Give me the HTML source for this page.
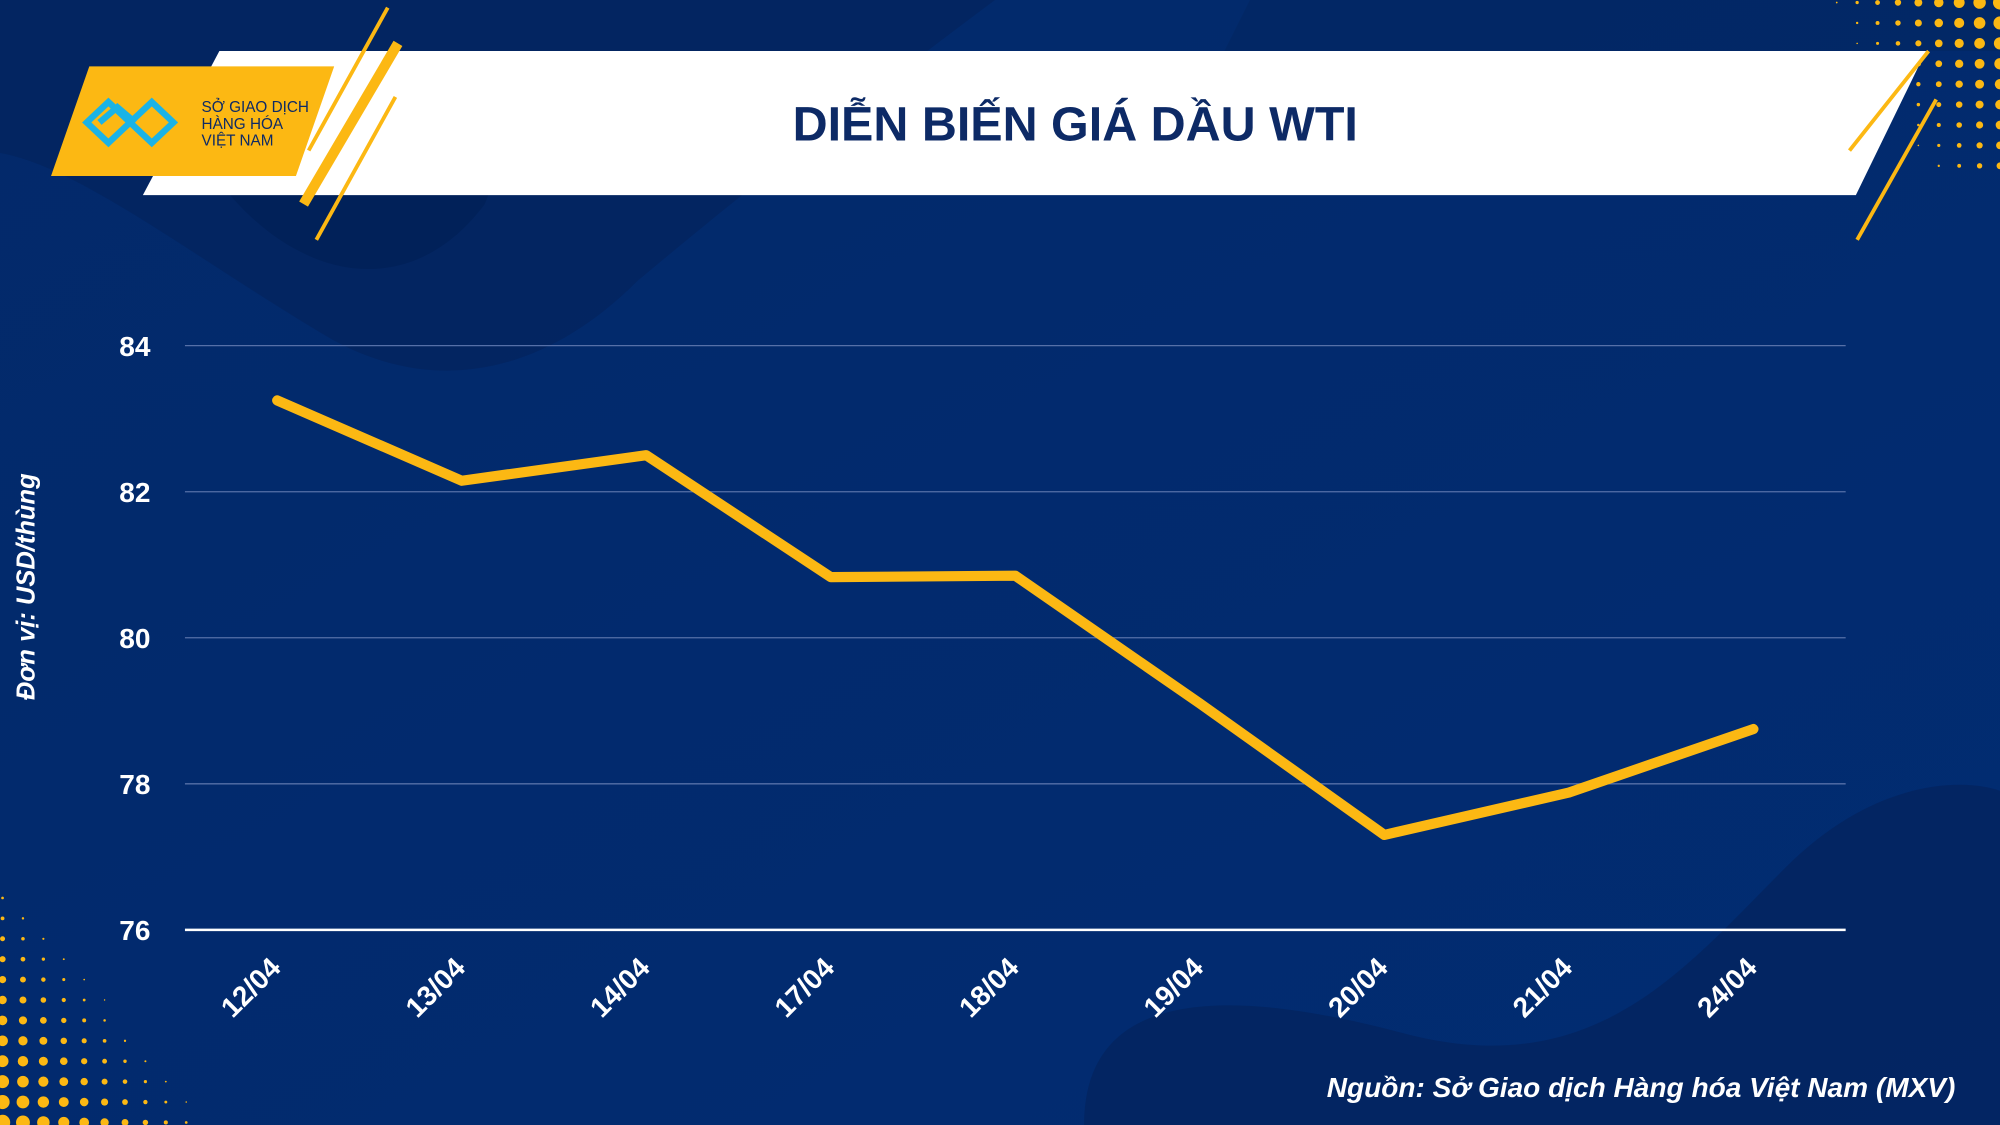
<!DOCTYPE html>
<html><head><meta charset="utf-8"><style>
html,body{margin:0;padding:0;width:2000px;height:1125px;overflow:hidden;background:#012b6f}
svg{display:block}
text{font-family:"Liberation Sans",sans-serif}
</style></head><body>
<svg id="chart" width="2000" height="1125" viewBox="0 0 1568 882" xmlns="http://www.w3.org/2000/svg">
<defs>
<linearGradient id="bg" x1="0" y1="0" x2="1" y2="1"><stop offset="0" stop-color="#03296a"/><stop offset="1" stop-color="#012c72"/></linearGradient>
</defs>
<rect width="1568" height="882" fill="url(#bg)"/>
<path d="M0,0 H780 C700,60 620,120 500,220 C420,300 330,310 250,260 C150,200 60,130 0,120 Z" fill="#04245f" opacity="0.8"/>
<path d="M170,140 C230,220 320,240 380,160 L420,60 L170,60Z" fill="#021f55" opacity="0.7"/>
<path d="M850,882 C850,780 950,770 1100,810 C1250,850 1320,760 1400,680 C1470,610 1540,610 1568,620 V882Z" fill="#04245f" opacity="0.8"/>
<path d="M980,0 H1568 V40 H960Z" fill="#032760" opacity="0.6"/>
<g id="dots-tr"></g>
<g id="dots-bl"></g>
<polygon points="172,40 1510,40 1455,153 112,153" fill="#ffffff"/>
<polygon points="70,52 262,52 232,138 40,138" fill="#fcb813"/>
<g stroke="#1bb3e6" stroke-width="5" fill="none">
<path d="M68,96 L85,80 L102,96 L119,80 L136,96 L119,112 L102,96 L85,112 Z"/>
<path d="M78,96 L92,84 L106,96"/>
</g>
<text x="158" y="88" font-size="12" fill="#0d2a66" font-family="Liberation Serif,serif">SỞ GIAO DỊCH</text>
<text x="158" y="101" font-size="12" fill="#0d2a66" font-family="Liberation Serif,serif">HÀNG HÓA</text>
<text x="158" y="114" font-size="12" fill="#0d2a66" font-family="Liberation Serif,serif">VIỆT NAM</text>
<g stroke="#fcb813">
<line x1="304" y1="6" x2="242" y2="118" stroke-width="3"/>
<line x1="312" y1="34" x2="238" y2="160" stroke-width="8"/>
<line x1="310" y1="76" x2="248" y2="188" stroke-width="3"/>
<line x1="1512" y1="40" x2="1450" y2="118" stroke-width="3"/>
<line x1="1518" y1="78" x2="1456" y2="188" stroke-width="3"/>
</g>
<text x="843" y="110" font-size="38" font-weight="bold" fill="#0d2a66" text-anchor="middle">DIỄN BIẾN GIÁ DẦU WTI</text>
<text transform="translate(27,460) rotate(-90)" font-size="20" font-weight="bold" font-style="italic" fill="#fff" text-anchor="middle">Đơn vị: USD/thùng</text>
<g id="grid"></g><g id="yt"></g><g id="xt"></g><g id="series"></g>
<text x="1533" y="860" font-size="22" font-weight="bold" font-style="italic" fill="#fff" text-anchor="end">Nguồn: Sở Giao dịch Hàng hóa Việt Nam (MXV)</text>
</svg>
<script>
const categories=["12/04","13/04","14/04","17/04","18/04","19/04","20/04","21/04","24/04"];
const prices=[83.25,82.15,82.5,80.83,80.85,79.1,77.3,77.88,78.75];
const yTicks=[76,78,80,82,84];
const NS="http://www.w3.org/2000/svg";
const X0=145,X1=1447,Y0=729,Y1=271,VMIN=76,VMAX=84;
const step=(X1-X0)/categories.length;
function xs(i){return X0+step*(i+0.5);}
function ys(v){return Y0-(v-VMIN)/(VMAX-VMIN)*(Y0-Y1);}
function mk(t,a,p){const e=document.createElementNS(NS,t);for(const k in a)e.setAttribute(k,a[k]);p.appendChild(e);return e;}
const grid=document.getElementById('grid'),yt=document.getElementById('yt'),xt=document.getElementById('xt'),ser=document.getElementById('series');
yTicks.forEach(v=>{
 const l=mk('line',{x1:X0,x2:X1,y1:ys(v),y2:ys(v),stroke:v===VMIN?'#ffffff':'#5670a8','stroke-width':v===VMIN?2:1},grid);
 
 
 const t=mk('text',{x:118,y:ys(v)+8,'font-size':22,'font-weight':'bold',fill:'#fff','text-anchor':'end'},yt);
 t.textContent=v;
 
 
});
categories.forEach((c,i)=>{
 const x=xs(i)+4,y=760;
 const t=mk('text',{x:x,y:y,'font-size':22,'font-weight':'bold',fill:'#fff','text-anchor':'end',transform:`rotate(-45 ${x} ${y})`},xt);
 t.textContent=c;
 
 
});
const pts=prices.map((v,i)=>xs(i)+','+ys(v)).join(' ');
const pl=mk('polyline',{points:pts,fill:'none',stroke:'#fcb813','stroke-width':8,'stroke-linejoin':'round','stroke-linecap':'round'},ser);


// decorative dots
const dtr=document.getElementById('dots-tr');
for(let r=0;r<9;r++)for(let c=0;c<9;c++){const x=1568-c*16,y=2+r*16;const s=Math.max(0,5.5-c*0.6-r*0.35);if(s>0.5)mk('circle',{cx:x,cy:y,r:s,fill:'#fcb813'},dtr);}
const dbl=document.getElementById('dots-bl');
for(let r=0;r<12;r++)for(let c=0;c<12;c++){const x=2+c*16,y=880-r*16;const s=Math.max(0,6-c*0.55-r*0.45);if(s>0.5)mk('circle',{cx:x,cy:y,r:s,fill:'#fcb813'},dbl);}
</script>
</body></html>
